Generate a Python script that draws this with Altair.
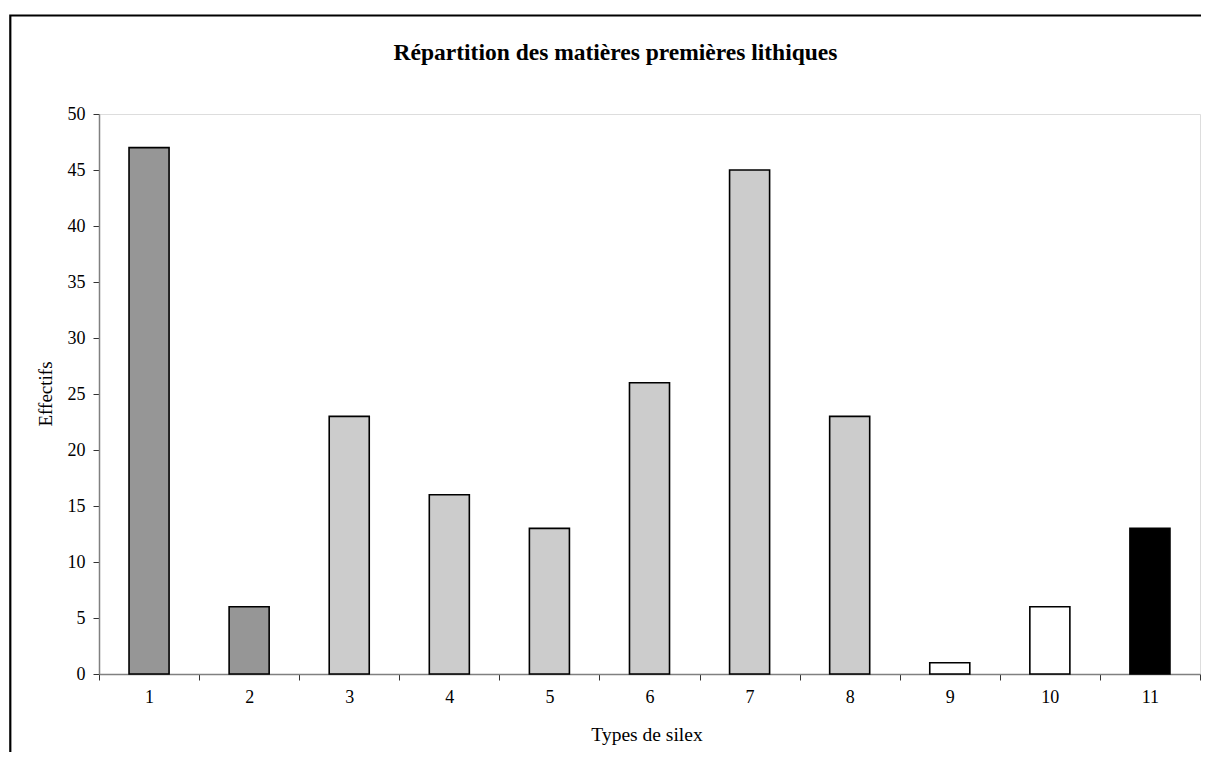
import altair as alt
import pandas as pd

types = ["1", "2", "3", "4", "5", "6", "7", "8", "9", "10", "11"]
effectifs = [47, 6, 23, 16, 13, 26, 45, 23, 1, 6, 13]
fills = ["#969696", "#969696", "#cccccc", "#cccccc", "#cccccc", "#cccccc",
         "#cccccc", "#cccccc", "#ffffff", "#ffffff", "#000000"]
y_ticks = [0, 5, 10, 15, 20, 25, 30, 35, 40, 45, 50]

title_text = "Répartition des matières premières lithiques"
x_title = "Types de silex"
y_title = "Effectifs"

FONT = "Liberation Serif"

df = pd.DataFrame({"type": types, "n": effectifs, "fill": fills})

bars = alt.Chart(df).mark_bar(stroke="black", strokeWidth=1.6, width={"band": 0.4}).encode(
    x=alt.X("type:N", sort=types,
            scale=alt.Scale(paddingInner=0, paddingOuter=0),
            axis=alt.Axis(title=x_title, labelAngle=0, tickBand="extent",
                          domainColor="#808080", domainWidth=1.5,
                          tickColor="#333333", tickSize=6, tickWidth=1,
                          labelPadding=8, labelFontSize=18, labelFont=FONT,
                          labelColor="black",
                          titleFont=FONT, titleFontSize=19.5, titleFontWeight="normal",
                          titleColor="black", titleX=547.5, titleY=66,
                          titleBaseline="alphabetic", titleAlign="center")),
    y=alt.Y("n:Q", scale=alt.Scale(domain=[0, 50], nice=False),
            axis=alt.Axis(title=None, values=y_ticks, grid=False,
                          domainColor="#808080", domainWidth=1.5,
                          tickColor="#333333", tickSize=6, tickWidth=1,
                          labelPadding=8, labelFontSize=18, labelFont=FONT,
                          labelColor="black")),
    fill=alt.Fill("fill:N", scale=None, legend=None),
)

one = pd.DataFrame({"k": [0]})

frame = alt.Chart(one).mark_rect(filled=False, stroke="black", strokeWidth=2.2).encode(
    x=alt.value(-88.7), x2=alt.value(1123), y=alt.value(-98.5), y2=alt.value(700)
)

title = alt.Chart(one).mark_text(
    font=FONT, fontSize=23.5, fontWeight="bold", align="center",
    baseline="alphabetic", color="black"
).encode(x=alt.value(516.5), y=alt.value(-54), text=alt.value(title_text))

ytitle = alt.Chart(one).mark_text(
    font=FONT, fontSize=19, align="center", baseline="alphabetic",
    color="black", angle=270
).encode(x=alt.value(-47), y=alt.value(280), text=alt.value(y_title))

chart = alt.layer(frame, bars, title, ytitle).properties(
    width=1101, height=560,
    autosize=alt.AutoSizeParams(type="none"),
    padding={"left": 91, "top": 106, "right": 1, "bottom": 78},
).configure_view(stroke="#a0a0a0", strokeWidth=1.5).configure(background="white")

chart.save("out.html", embed_options={"renderer": "svg", "actions": False})
